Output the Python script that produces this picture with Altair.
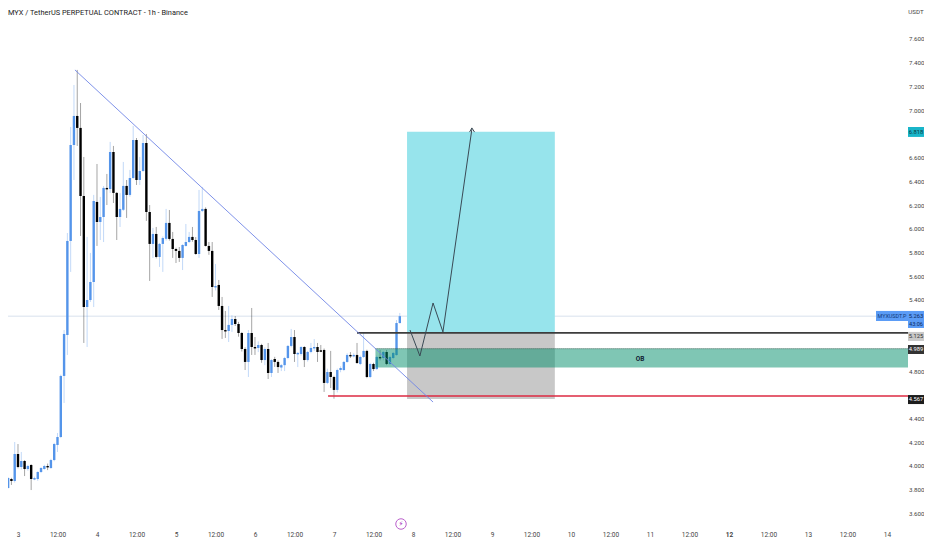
import altair as alt
import pandas as pd

# hourly candles, first hour is offset -5 from "3" 00:00
start_hour = -5
ohlc = [
[3.764,3.772,3.721,3.747],[3.747,3.82,3.74,3.814],[3.814,3.905,3.81,3.898],[3.89,3.90,3.84,3.873],
[3.873,4.202,3.86,4.101],[4.101,4.185,3.98,3.991],[3.991,4.118,3.97,4.042],[4.042,4.05,3.915,3.974],
[3.974,4.01,3.96,4.0],[4.008,4.015,3.797,3.89],[3.89,3.91,3.88,3.898],[3.89,3.955,3.875,3.949],
[3.949,3.99,3.94,3.983],[3.974,4.01,3.97,4.0],[4.0,4.02,3.965,3.99],[3.983,4.06,3.975,4.05],
[4.05,4.195,4.04,4.185],[4.177,4.278,4.118,4.244],[4.244,4.77,4.235,4.759],[4.759,5.146,4.531,5.113],
[5.104,5.964,4.936,5.897],[5.897,6.858,5.636,6.706],[6.706,7.212,6.411,6.951],[6.951,7.339,6.698,6.85],
[6.85,7.06,5.939,6.276],[6.276,6.605,5.037,5.34],[5.34,5.931,5.003,5.399],[5.399,5.796,5.383,5.551],
[5.551,6.285,5.34,6.234],[6.226,6.546,5.855,6.057],[6.057,6.268,5.905,6.099],[6.099,6.36,5.888,6.344],
[6.344,6.462,6.2,6.335],[6.335,6.732,6.302,6.647],[6.647,6.698,6.217,6.302],[6.302,6.31,5.905,6.099],
[6.099,6.30,6.015,6.167],[6.16,6.563,6.15,6.361],[6.361,6.411,6.091,6.285],[6.285,6.496,6.27,6.428],
[6.428,6.867,6.42,6.748],[6.748,6.765,6.369,6.411],[6.411,6.605,6.369,6.487],[6.487,6.791,6.48,6.723],
[6.723,6.799,6.066,6.141],[6.141,6.2,5.56,5.872],[5.872,6.007,5.754,5.956],[5.956,6.015,5.75,5.762],
[5.762,5.88,5.678,5.872],[5.872,5.935,5.636,5.922],[5.915,6.167,5.9,6.049],[6.049,6.158,5.9,5.914],
[5.914,5.973,5.754,5.829],[5.829,5.84,5.711,5.813],[5.813,5.846,5.72,5.754],[5.754,5.87,5.652,5.863],
[5.855,6.04,5.85,5.888],[5.888,5.973,5.88,5.931],[5.931,6.015,5.89,5.905],[5.905,5.93,5.78,5.787],
[5.787,6.327,5.754,6.15],[6.15,6.352,6.14,6.167],[6.167,6.18,5.85,5.855],[5.855,5.888,5.78,5.813],
[5.813,5.888,5.425,5.509],[5.509,5.703,5.48,5.517],[5.526,5.568,5.315,5.349],[5.349,5.425,5.071,5.146],
[5.146,5.307,5.079,5.138],[5.138,5.349,5.045,5.189],[5.189,5.27,5.13,5.239],[5.239,5.264,5.18,5.197],
[5.197,5.215,5.09,5.121],[5.121,5.13,4.965,4.986],[4.986,5.0,4.809,4.877],[4.877,5.146,4.75,5.121],
[5.121,5.332,4.936,5.003],[5.003,5.087,4.936,4.995],[4.995,5.05,4.96,5.02],[5.02,5.03,4.87,4.893],
[4.893,5.0,4.85,4.986],[4.986,5.037,4.733,4.784],[4.784,4.9,4.75,4.893],[4.902,4.92,4.835,4.877],
[4.877,4.89,4.784,4.834],[4.83,4.86,4.80,4.85],[4.85,4.92,4.80,4.91],[4.91,5.02,4.90,5.012],
[5.012,5.155,5.0,5.087],[5.087,5.146,4.877,4.944],[4.944,4.96,4.834,4.953],[4.944,5.01,4.93,5.003],
[5.003,5.01,4.834,4.893],[4.893,4.97,4.88,4.961],[4.961,5.037,4.95,4.995],[4.995,5.07,4.97,5.003],
[5.003,5.037,4.877,4.961],[4.975,5.02,4.96,4.968],[4.978,4.99,4.624,4.70],[4.70,4.82,4.69,4.792],
[4.792,4.97,4.657,4.75],[4.75,4.76,4.567,4.641],[4.641,4.82,4.62,4.809],[4.809,4.84,4.79,4.826],
[4.809,4.885,4.80,4.877],[4.877,4.95,4.87,4.936],[4.936,4.96,4.91,4.928],[4.928,4.95,4.915,4.936],
[4.936,5.037,4.86,4.868],[4.86,4.93,4.85,4.919],[4.919,5.12,4.91,4.97],[4.97,4.98,4.74,4.75],
[4.75,4.87,4.74,4.86],[4.86,4.87,4.80,4.817],[4.817,4.93,4.81,4.919],[4.919,4.978,4.89,4.91],
[4.91,4.97,4.89,4.961],[4.961,4.978,4.85,4.86],[4.86,4.93,4.85,4.919],[4.91,4.96,4.90,4.953],
[4.935,5.23,4.93,5.205],[5.205,5.29,5.20,5.263],
]
price_ticks = [3.6,3.8,4.0,4.2,4.4,4.8,5.4,5.6,5.8,6.0,6.2,6.4,6.6,7.0,7.2,7.4,7.6]
time_ticks = list(range(0, 265, 12))

trend = dict(x=17.3, x2=126.1, y=7.339, y2=4.539)
entry, target, stop_bottom = 5.122, 6.818, 4.565
box_start, box_end = 118.2, 163.1
ob_start, ob_top, ob_bottom = 108.6, 4.989, 4.83
stop_line, stop_start = 4.59, 94.2
entry_start = 103.0
last_price = 5.263
path_h = [119.1, 122.1, 126.1, 129.1, 137.9]
path_p = [5.146, 4.927, 5.374, 5.13, 6.84]
arrow_h = [137.2, 137.9, 138.7]
arrow_p = [6.815, 6.85, 6.815]

title = "MYX / TetherUS PERPETUAL CONTRACT - 1h - Binance"

xs = alt.Scale(domain=[-3.038, 270.4], nice=False, zero=False, padding=0)
ys = alt.Scale(domain=[3.477, 7.861], nice=False, zero=False, padding=0)
FONT = "Roboto"
UP, DOWN = "#5595ea", "#000000"

df = pd.DataFrame(ohlc, columns=["o", "h", "l", "c"])
df["t"] = [start_hour + i for i in range(len(df))]
df["top"] = df[["o", "c"]].max(axis=1)
df["bot"] = df[["o", "c"]].min(axis=1)
df["col"] = [UP if c >= o else DOWN for o, c in zip(df.o, df.c)]
df["bot2"] = [b if t - b > 0.012 else t - 0.012 for t, b in zip(df.top, df.bot)]

XA = alt.Axis(
    values=time_ticks, domain=False, ticks=False, grid=False, labelPadding=3, title=None,
    labelExpr="datum.value % 24 == 0 ? '' + (3 + datum.value / 24) : '12:00'",
    labelFont=FONT, labelFontSize=6.5, labelColor="#444444", labelOverlap=False,
    labelFontWeight={"condition": {"test": "datum.value == 216", "value": "bold"}, "value": "normal"})
YA = alt.Axis(
    orient="right", values=price_ticks, format=".3f", domain=False, ticks=False, grid=False, title=None,
    labelPadding=0.5, labelFont=FONT, labelFontSize=6.2, labelColor="#444444", labelOverlap=False)
X = lambda f: alt.X(f, type="quantitative", scale=xs, axis=XA)
Y = lambda f: alt.Y(f, type="quantitative", scale=ys, axis=YA)


def rect(x1, x2, y1, y2, color, opacity=1.0):
    d = pd.DataFrame({"a": [x1], "b": [x2], "c": [y1], "e": [y2]})
    return alt.Chart(d).mark_rect(color=color, opacity=opacity).encode(
        x=X("a"), x2="b", y=Y("c"), y2="e")


def hline(x1, x2, y, color, width, dash=None):
    d = pd.DataFrame({"a": [x1], "b": [x2], "c": [y]})
    kw = {"strokeDash": dash} if dash else {}
    return alt.Chart(d).mark_rule(color=color, strokeWidth=width, **kw).encode(
        x=X("a"), x2="b", y=Y("c"))


def badge(x1, x2, top, bottom, color):
    d = pd.DataFrame({"c": [top], "e": [bottom]})
    return alt.Chart(d).mark_rect(color=color).encode(
        x=alt.value(x1), x2=alt.value(x2), y=Y("c"), y2="e")


def label(px, price, txt, color, size=5.8, align="center", weight="normal"):
    d = pd.DataFrame({"c": [price], "s": [txt]})
    return alt.Chart(d).mark_text(color=color, fontSize=size, font=FONT, align=align,
                                  baseline="middle", fontWeight=weight).encode(
        x=alt.value(px), y=Y("c"), text="s:N")


last_line = hline(-3.038, 270.4, last_price, "#cfdbea", 0.8)
box_cyan = rect(box_start, box_end, entry, target, "#97e4ec")
box_gray = rect(box_start, box_end, stop_bottom, entry, "#c8c8c8")
wicks = alt.Chart(df).mark_rule(strokeWidth=0.8, opacity=0.45, clip=True).encode(
    x=X("t"), y=Y("h"), y2="l", color=alt.Color("col:N", scale=None))
bodies = alt.Chart(df).mark_bar(size=2.4, clip=True).encode(
    x=X("t"), y=Y("top"), y2="bot2", color=alt.Color("col:N", scale=None))
ob = rect(ob_start, 270.4, ob_bottom, ob_top, "#008d69", 0.5)
ob_dots = hline(ob_start, 270.4, ob_top, "#2f5f52", 1, [1, 1])
entry_line = hline(entry_start, 270.4, entry, "#3d3d3d", 1.6)
stop = hline(stop_start, 270.4, stop_line, "#dc2a42", 1.6)
trendline = alt.Chart(pd.DataFrame([trend])).mark_rule(color="#7186e6", strokeWidth=0.9).encode(
    x=X("x"), x2="x2", y=Y("y"), y2="y2")
path = alt.Chart(pd.DataFrame({"x": path_h, "y": path_p, "i": range(len(path_h))})).mark_line(
    color="#3a4a55", strokeWidth=1).encode(x=X("x"), y=Y("y"), order="i:Q")
arrow = alt.Chart(pd.DataFrame({"x": arrow_h, "y": arrow_p, "i": range(len(arrow_h))})).mark_line(
    color="#3a4a55", strokeWidth=1).encode(x=X("x"), y=Y("y"), order="i:Q")

bolt_ring = alt.Chart(pd.DataFrame({"a": [1]})).mark_point(
    shape="circle", size=110, color="#a020b8", strokeWidth=1, filled=False
).encode(x=alt.value(393), y=alt.value(516))
bolt = alt.Chart(pd.DataFrame({"s": ["\u26a1"]})).mark_text(
    color="#a020b8", fontSize=7, font="DejaVu Sans", align="center", baseline="middle"
).encode(x=alt.value(393), y=alt.value(516), text="s:N")

head = alt.Chart(pd.DataFrame({"s": [title]})).mark_text(
    color="#1a1a1a", fontSize=7.4, font=FONT, align="left", baseline="middle"
).encode(x=alt.value(0), y=alt.value(5), text="s:N")
unit = alt.Chart(pd.DataFrame({"s": ["USDT"]})).mark_text(
    color="#444444", fontSize=6.2, font=FONT, align="center", baseline="middle"
).encode(x=alt.value(908), y=alt.value(4), text="s:N")

chart = alt.layer(
    last_line, box_cyan, box_gray, bodies, wicks, ob, ob_dots, entry_line, stop,
    trendline, path, arrow,
    label(632, 4.905, "OB", "#123", 6.5, weight="bold"),
    badge(900, 916, 6.858, 6.774, "#19b5c9"), label(908, 6.815, "6.818", "#0c3a40"),
    badge(868, 900, 5.307, 5.222, "#5b9cf6"), label(884, 5.265, "MYXUSDT.P", "#123a78", 5.4),
    badge(900, 916, 5.307, 5.163, "#5b9cf6"),
    label(908, 5.265, "5.263", "#0d2a5c"), label(908, 5.195, "43:06", "#0d2a5c", 5.6),
    badge(900, 916, 5.13, 5.054, "#c9c9c9"), label(908, 5.095, "5.125", "#333333"),
    badge(900, 916, 5.02, 4.944, "#333333"), label(908, 4.985, "4.989", "#ffffff"),
    badge(900, 916, 4.598, 4.522, "#1c1c1c"), label(908, 4.562, "4.567", "#ffffff"),
    bolt_ring, bolt, head, unit,
).properties(
    width=900, height=520,
    padding={"left": 0, "top": 0, "right": 16, "bottom": 10},
    autosize=alt.AutoSizeParams(type="none"),
).configure_view(stroke=None)

chart.save("out.html", embed_options={"renderer": "svg", "actions": False})
